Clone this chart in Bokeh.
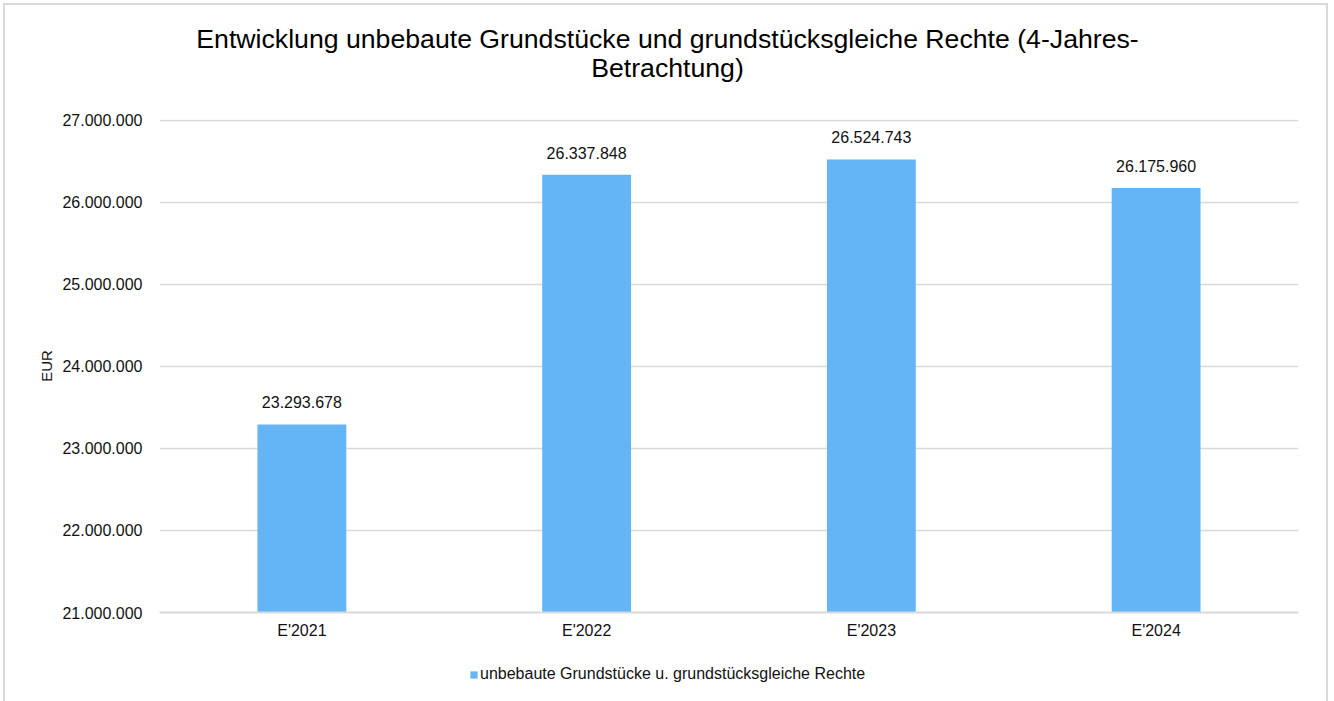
from bokeh.plotting import figure
from bokeh.layouts import column
from bokeh.models import (ColumnDataSource, FixedTicker, LabelSet, Label, Legend, LegendItem, Range1d, FactorRange)
from bokeh.core.properties import value
from bokeh.embed import file_html
from bokeh.resources import INLINE

categories = ["E'2021", "E'2022", "E'2023", "E'2024"]
values = [23293678, 26337848, 26524743, 26175960]
value_labels = ["23.293.678", "26.337.848", "26.524.743", "26.175.960"]
y_ticks = [21000000, 22000000, 23000000, 24000000, 25000000, 26000000, 27000000]
y_tick_labels = ["21.000.000", "22.000.000", "23.000.000", "24.000.000", "25.000.000", "26.000.000", "27.000.000"]
series_name = "unbebaute Grundstücke u. grundstücksgleiche Rechte"
title_lines = ["Entwicklung unbebaute Grundstücke und grundstücksgleiche Rechte (4-Jahres-", "Betrachtung)"]

FONT = "Liberation Sans"
BAR = "#64B5F6"
GRID = "#d9d9d9"
TXT = "#111111"
W = 1321
TOP_PAD = 12000  # small headroom so the top gridline is not clipped by the frame

# ---- title strip ----
pt = figure(width=W, height=95, output_backend="svg", toolbar_location=None,
            x_axis_type=None, y_axis_type=None, min_border=0)
pt.outline_line_color = None
pt.xgrid.visible = False
pt.ygrid.visible = False
for i, t in enumerate(title_lines):
    pt.add_layout(Label(x=508, y=62 - 29 * i, x_units="screen", y_units="screen", text=t,
                        text_align="center", text_baseline="alphabetic", text_font=FONT,
                        text_font_size="26.67px", text_color="#000000"))

# ---- main chart ----
src = ColumnDataSource(dict(cat=categories, val=values, lab=value_labels))

p = figure(width=W, height=550, x_range=FactorRange(*categories, range_padding=0),
           y_range=Range1d(y_ticks[0], y_ticks[-1] + TOP_PAD),
           output_backend="svg", toolbar_location=None,
           min_border_left=154, min_border_right=28, min_border_top=19, min_border_bottom=38)
p.outline_line_color = None

r = p.vbar(x="cat", top="val", bottom=y_ticks[0], width=0.312, source=src, color=BAR, line_color=None)

p.yaxis.ticker = FixedTicker(ticks=y_ticks)
p.yaxis.major_label_overrides = {t: l for t, l in zip(y_ticks, y_tick_labels)}
p.yaxis.axis_line_color = None
p.yaxis.major_tick_line_color = None
p.yaxis.minor_tick_line_color = None
p.yaxis.major_label_standoff = 11
p.yaxis.major_label_text_font = FONT
p.yaxis.major_label_text_font_size = "16px"
p.yaxis.major_label_text_color = TXT
p.yaxis.axis_label = "EUR"
p.yaxis.axis_label_text_font = FONT
p.yaxis.axis_label_text_font_size = "15px"
p.yaxis.axis_label_text_font_style = "normal"
p.yaxis.axis_label_text_color = TXT
p.yaxis.axis_label_standoff = 4

p.xaxis.axis_line_color = GRID
p.xaxis.axis_line_width = 2
p.xaxis.major_tick_line_color = None
p.xaxis.minor_tick_line_color = None
p.xaxis.major_label_standoff = 3
p.xaxis.major_label_text_font = FONT
p.xaxis.major_label_text_font_size = "16px"
p.xaxis.major_label_text_color = TXT

p.xgrid.grid_line_color = None
p.ygrid.grid_line_color = GRID
p.ygrid.grid_line_width = 1.3

labels = LabelSet(x="cat", y="val", text="lab", source=src, text_align="center",
                  text_baseline="alphabetic", y_offset=16, text_font=value(FONT),
                  text_font_size=value("16px"), text_color=TXT)
p.add_layout(labels)

# ---- legend strip (same series as a hidden renderer; only the legend swatch shows) ----
pl = figure(width=W, height=51, output_backend="svg", toolbar_location=None,
            x_range=FactorRange(*categories), y_range=Range1d(0, 1),
            x_axis_type=None, y_axis_type=None, min_border=0)
pl.outline_line_color = None
pl.xgrid.visible = False
pl.ygrid.visible = False
lr = pl.vbar(x="cat", top="val", bottom=y_ticks[0], width=0.312, source=src, color=BAR, line_color=None)
lr.visible = False
legend = Legend(items=[LegendItem(label=series_name, renderers=[lr])],
                location=(310, 18), orientation="horizontal",
                glyph_width=9, glyph_height=9, label_height=15, label_standoff=2,
                spacing=0, padding=0, margin=0, border_line_color=None, background_fill_alpha=0,
                inactive_fill_alpha=0,
                label_text_font=FONT, label_text_font_size="16px", label_text_color=TXT)
pl.add_layout(legend)

layout = column(pt, p, pl, spacing=0)
layout.styles = {"outline": "2px solid #d9d9d9", "margin": "5px 0 0 5px", "background": "white"}

open("out.html", "w").write(file_html(layout, INLINE))
